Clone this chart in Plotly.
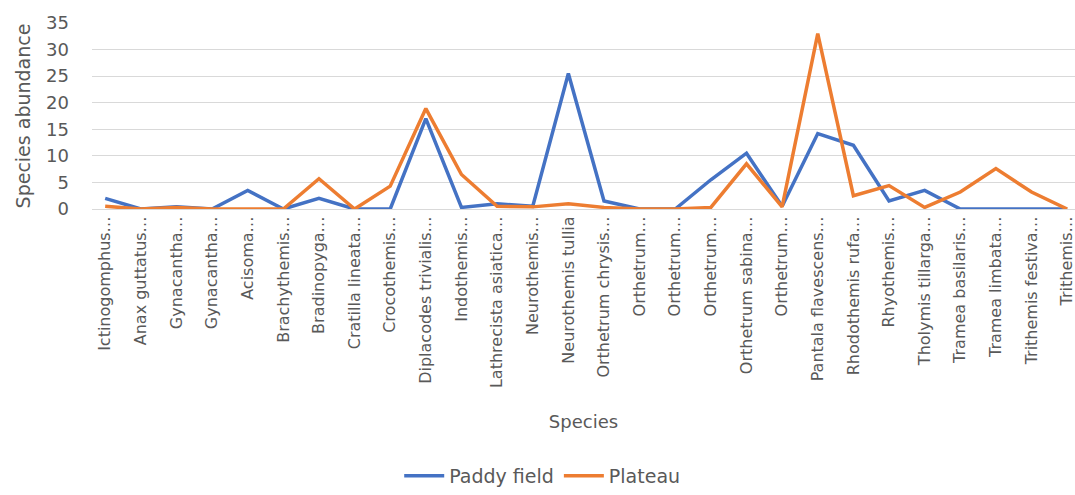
import plotly.graph_objects as go

# Dragonfly species (axis labels as printed, truncated with an ellipsis)
species = [
    "Ictinogomphus…", "Anax guttatus…", "Gynacantha…", "Gynacantha…",
    "Acisoma…", "Brachythemis…", "Bradinopyga…", "Cratilla lineata…",
    "Crocothemis…", "Diplacodes trivialis…", "Indothemis…",
    "Lathrecista asiatica…", "Neurothemis…", "Neurothemis tullia",
    "Orthetrum chrysis…", "Orthetrum…", "Orthetrum…", "Orthetrum…",
    "Orthetrum sabina…", "Orthetrum…", "Pantala flavescens…",
    "Rhodothemis rufa…", "Rhyothemis…", "Tholymis tillarga…",
    "Tramea basilaris…", "Tramea limbata…", "Trithemis festiva…",
    "Trithemis…",
]

paddy_field = [2, 0, 0.4, 0, 3.5, 0, 2, 0, 0, 17, 0.3, 1, 0.5, 25.5,
               1.5, 0, 0, 5.5, 10.5, 0.5, 14.2, 12, 1.5, 3.5, 0, 0, 0, 0]
plateau = [0.5, 0, 0.3, 0, 0, 0, 5.7, 0, 4.3, 18.9, 6.5, 0.5, 0.4, 1,
           0.3, 0, 0, 0.3, 8.5, 0.4, 33, 2.5, 4.4, 0.3, 3.2, 7.6, 3.2, 0]

positions = list(range(len(species)))

GREY = "#595959"
FONT = "'DejaVu Sans', sans-serif"

fig = go.Figure()
fig.add_trace(go.Scatter(
    x=positions, y=paddy_field, name="Paddy field", mode="lines",
    line=dict(color="#4472C4", width=3.5),
))
fig.add_trace(go.Scatter(
    x=positions, y=plateau, name="Plateau", mode="lines",
    line=dict(color="#ED7D31", width=3.5),
))

fig.update_layout(
    width=1075, height=495,
    margin=dict(l=92, r=0, t=23, b=286, autoexpand=False),
    plot_bgcolor="white", paper_bgcolor="white",
    font=dict(family=FONT, color=GREY, size=16),
    showlegend=True,
    legend=dict(
        orientation="h", x=0.458, xanchor="center", xref="paper",
        y=-0.014, yanchor="bottom", yref="container",
        font=dict(size=19, color=GREY), itemwidth=40,
    ),
)

fig.update_xaxes(
    tickmode="array", tickvals=positions, ticktext=species,
    tickangle=-90, tickfont=dict(size=16, color=GREY),
    ticklabeloverflow="allow", automargin=False,
    range=[-0.37, 27.22], showgrid=False, zeroline=False,
    showline=True, linecolor="#D9D9D9", linewidth=1,
    ticks="", title=dict(text="Species", font=dict(size=18, color=GREY),
                         standoff=28),
)
fig.update_yaxes(
    range=[0, 35], dtick=5, tick0=0, automargin=False,
    showgrid=True, gridcolor="#D9D9D9", gridwidth=1,
    zeroline=False, showline=False, ticks="",
    tickfont=dict(size=18, color=GREY), ticklabelstandoff=22,
    title=dict(text="Species abundance", font=dict(size=19, color=GREY),
               standoff=10),
)

fig.write_html("out.html")
